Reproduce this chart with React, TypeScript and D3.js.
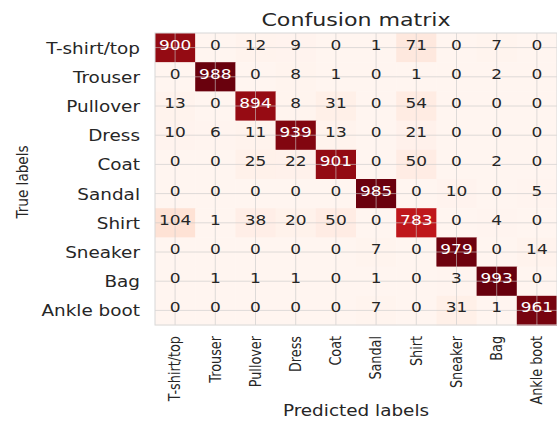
import * as d3 from 'd3'

const labels = ['T-shirt/top', 'Trouser', 'Pullover', 'Dress', 'Coat', 'Sandal', 'Shirt', 'Sneaker', 'Bag', 'Ankle boot']

const rowTshirt = [900, 0, 12, 9, 0, 1, 71, 0, 7, 0]
const rowTrouser = [0, 988, 0, 8, 1, 0, 1, 0, 2, 0]
const rowPullover = [13, 0, 894, 8, 31, 0, 54, 0, 0, 0]
const rowDress = [10, 6, 11, 939, 13, 0, 21, 0, 0, 0]
const rowCoat = [0, 0, 25, 22, 901, 0, 50, 0, 2, 0]
const rowSandal = [0, 0, 0, 0, 0, 985, 0, 10, 0, 5]
const rowShirt = [104, 1, 38, 20, 50, 0, 783, 0, 4, 0]
const rowSneaker = [0, 0, 0, 0, 0, 7, 0, 979, 0, 14]
const rowBag = [0, 1, 1, 1, 0, 1, 0, 3, 993, 0]
const rowBoot = [0, 0, 0, 0, 0, 7, 0, 31, 1, 961]

const matrix = [rowTshirt, rowTrouser, rowPullover, rowDress, rowCoat, rowSandal, rowShirt, rowSneaker, rowBag, rowBoot]

const W = 557
const H = 421
const font = 'DejaVu Sans'

export default function App() {
  const x = d3.scaleBand<string>().domain(labels).range([155, 557])
  const y = d3.scaleBand<string>().domain(labels).range([33, 325])
  const vmax = d3.max(matrix.flat()) || 1
  const color = d3.scaleSequential(d3.interpolateReds).domain([0, vmax])

  const cells = matrix.flatMap((row, i) =>
    row.map((v, j) => ({ v, r: labels[i], c: labels[j] }))
  )
  const bw = x.bandwidth()
  const bh = y.bandwidth()

  return (
    <svg width={W} height={H} style={{ position: 'absolute', left: 0, top: 0, background: '#fff' }}>
      <g>
        {cells.map((d, k) => (
          <rect key={k} x={x(d.c)} y={y(d.r)} width={bw + 0.5} height={bh + 0.5} fill={color(d.v)} />
        ))}
      </g>
      {/* grid through cell centres */}
      <g stroke="#c8c8c8" strokeOpacity={0.6} strokeWidth={1}>
        {labels.map((l) => (
          <line key={'v' + l} x1={x(l)! + bw / 2} x2={x(l)! + bw / 2} y1={33} y2={325} />
        ))}
        {labels.map((l) => (
          <line key={'h' + l} x1={155} x2={557} y1={y(l)! + bh / 2} y2={y(l)! + bh / 2} />
        ))}
      </g>
      <rect x={155} y={33} width={402} height={292} fill="none" stroke="#d8d8d8" strokeWidth={1} />
      <g fontFamily={font} fontSize={14.5} textAnchor="middle">
        {cells.map((d, k) => (
          <text
            key={k}
            transform={`translate(${x(d.c)! + bw / 2},${y(d.r)! + bh / 2 + 2}) scale(1.17,1)`}
            fill={d.v > vmax / 2 ? '#ffffff' : '#262626'}
          >
            {d.v}
          </text>
        ))}
      </g>
      <text
        transform={`translate(356,26) scale(1.23,1)`}
        fontFamily={font}
        fontSize={18}
        textAnchor="middle"
        fill="#262626"
      >
        Confusion matrix
      </text>
      <g fontFamily={font} fontSize={16} textAnchor="end" fill="#262626">
        {labels.map((l) => (
          <text key={l} transform={`translate(140,${y(l)! + bh / 2 + 6}) scale(1.15,1)`}>
            {l}
          </text>
        ))}
      </g>
      <g fontFamily={font} fontSize={12.8} textAnchor="end" fill="#262626">
        {labels.map((l) => (
          <text key={l} transform={`translate(${x(l)! + bw / 2},336) scale(1.17,1) rotate(-90)`} dy="0.35em">
            {l}
          </text>
        ))}
      </g>
      <text
        transform={`translate(28,182) scale(1.1,1) rotate(-90)`}
        fontFamily={font}
        fontSize={13.6}
        textAnchor="middle"
        fill="#262626"
      >
        True labels
      </text>
      <text
        transform={`translate(356,416) scale(1.15,1)`}
        fontFamily={font}
        fontSize={16}
        textAnchor="middle"
        fill="#262626"
      >
        Predicted labels
      </text>
    </svg>
  )
}
